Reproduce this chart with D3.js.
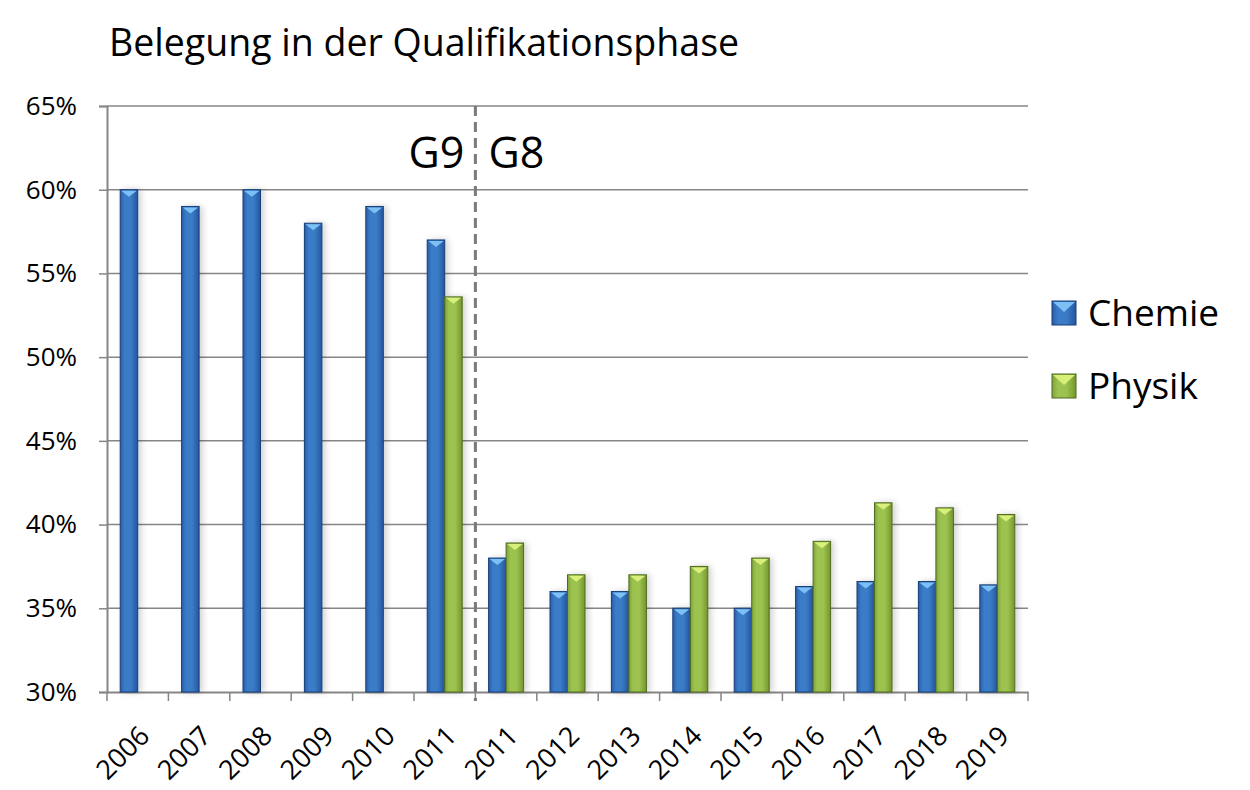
<!DOCTYPE html>
<html><head><meta charset="utf-8">
<script src="https://cdn.jsdelivr.net/npm/d3@7"></script>
<style>body{margin:0;background:#fff}svg{display:block}</style>
</head><body><svg id="c" width="1250" height="790"></svg>
<script>
const categories = ["2006","2007","2008","2009","2010","2011","2011","2012","2013","2014","2015","2016","2017","2018","2019"];
const chemie = [60,59,60,58,59,57,38,36,36,35,35,36.3,36.6,36.6,36.4];
const physik = [null,null,null,null,null,53.6,38.9,37,37,37.5,38,39,41.3,41,40.6];
const seriesNames = ["Chemie","Physik"];
const yTicks = [30,35,40,45,50,55,60,65];
const title = "Belegung in der Qualifikationsphase";
const phaseLabels = ["G9","G8"];

const svg = d3.select("#c");
const FONT = "Open Sans, sans-serif";
const m = {l:107, r:1028, t:106, b:692};
const idx = categories.map((d,i)=>i);
const x = d3.scaleBand().domain(idx).range([m.l,m.r]).paddingInner(0).paddingOuter(0);
const y = d3.scaleLinear().domain([30,65]).range([m.b,m.t]);
const bw = x.bandwidth()*0.285;

const defs = svg.append("defs");
function grad(id, stops){
  const g = defs.append("linearGradient").attr("id",id).attr("x1","0").attr("x2","1").attr("y1","0").attr("y2","0");
  stops.forEach(s=>g.append("stop").attr("offset",s[0]).attr("stop-color",s[1]));
}
grad("gB",[[0,"#2a5da8"],[0.25,"#3a7cc9"],[0.6,"#3b7bc6"],[1,"#2556a0"]]);
grad("gG",[[0,"#7fa33c"],[0.25,"#9dc350"],[0.6,"#9cc24f"],[1,"#74962f"]]);
const f = defs.append("filter").attr("id","sh").attr("x","-50%").attr("width","200%");
f.append("feGaussianBlur").attr("in","SourceAlpha").attr("stdDeviation","3");
f.append("feOffset").attr("dx","3").attr("dy","0").attr("result","b");
f.append("feComponentTransfer").append("feFuncA").attr("type","linear").attr("slope","0.18");
const mg = f.append("feMerge"); mg.append("feMergeNode"); mg.append("feMergeNode").attr("in","SourceGraphic");

// title
svg.append("text").attr("x",109).attr("y",56).attr("font-family",FONT).attr("font-size",37.5)
  .attr("fill","#000").text(title);

// gridlines
svg.append("g").selectAll("line").data(yTicks.slice(1)).join("line")
  .attr("x1",m.l).attr("x2",m.r).attr("y1",d=>y(d)).attr("y2",d=>y(d))
  .attr("stroke","#868686").attr("stroke-width",1.5);

// y axis
const ya = svg.append("g").attr("transform",`translate(${m.l},0)`)
  .call(d3.axisLeft(y).tickValues(yTicks).tickFormat(d=>d+"%").tickSize(8).tickPadding(22));
ya.select(".domain").attr("stroke","#868686").attr("stroke-width",2);
ya.selectAll(".tick line").attr("stroke","#868686").attr("stroke-width",1.5);
ya.selectAll("text").attr("font-family",FONT).attr("font-size",26).attr("fill","#000");

// x axis
const xa = svg.append("g").attr("transform",`translate(0,${m.b})`)
  .call(d3.axisBottom(x).tickSize(0).tickFormat(i=>categories[i]));
xa.select(".domain").attr("stroke","#868686").attr("stroke-width",2);
xa.selectAll(".tick text").attr("font-family",FONT).attr("font-size",27).attr("fill","#000")
  .attr("text-anchor","end").attr("transform","translate(-2,30) rotate(-45)").attr("dy","0.7em");
const bounds = d3.range(categories.length+1).map(i=>m.l+i*x.bandwidth());
svg.append("g").selectAll("line").data(bounds).join("line")
  .attr("x1",d=>d).attr("x2",d=>d).attr("y1",m.b).attr("y2",m.b+9)
  .attr("stroke","#868686").attr("stroke-width",1.5);

// bars
const data = [];
idx.forEach(i=>{
  if(chemie[i]!=null) data.push({i,v:chemie[i],s:0});
  if(physik[i]!=null) data.push({i,v:physik[i],s:1});
});
const cx = d=>x(d.i)+x.bandwidth()/2 + (d.s===0?-bw:0);
const bars = svg.append("g").selectAll("g").data(data).join("g").attr("filter","url(#sh)");
bars.append("rect").attr("x",cx).attr("width",bw).attr("y",d=>y(d.v)).attr("height",d=>y(30)-y(d.v))
  .attr("fill",d=>d.s===0?"url(#gB)":"url(#gG)")
  .attr("stroke",d=>d.s===0?"#173f78":"#4f6a1e").attr("stroke-width",1);
bars.append("path").attr("d",d=>{
  const x0=cx(d), yy=y(d.v);
  return `M${x0+1},${yy+1}L${x0+bw-1},${yy+1}L${x0+bw/2},${yy+7}Z`;
}).attr("fill",d=>d.s===0?"#7cc0f5":"#d8ef7a");

// dashed phase divider
const divX = x(6);
svg.append("line").attr("x1",divX).attr("x2",divX).attr("y1",m.t).attr("y2",m.b+9)
  .attr("stroke","#7a7a7a").attr("stroke-width",3).attr("stroke-dasharray","10,6");
svg.append("text").attr("x",divX-11).attr("y",168).attr("text-anchor","end")
  .attr("font-family",FONT).attr("font-size",43).text(phaseLabels[0]);
svg.append("text").attr("x",divX+13).attr("y",168).attr("text-anchor","start")
  .attr("font-family",FONT).attr("font-size",43).text(phaseLabels[1]);

// legend
const lg = svg.append("g").selectAll("g").data(seriesNames).join("g")
  .attr("transform",(d,i)=>`translate(1052,${301+i*73})`);
lg.append("rect").attr("width",24).attr("height",24)
  .attr("fill",(d,i)=>i===0?"url(#gB)":"url(#gG)").attr("stroke",(d,i)=>i===0?"#173f78":"#4f6a1e");
lg.append("path").attr("d","M1,1L23,1L12,11Z").attr("fill",(d,i)=>i===0?"#7cc0f5":"#d8ef7a");
lg.append("text").attr("x",36).attr("y",25).attr("font-family",FONT).attr("font-size",37).text(d=>d);
</script></body></html>
